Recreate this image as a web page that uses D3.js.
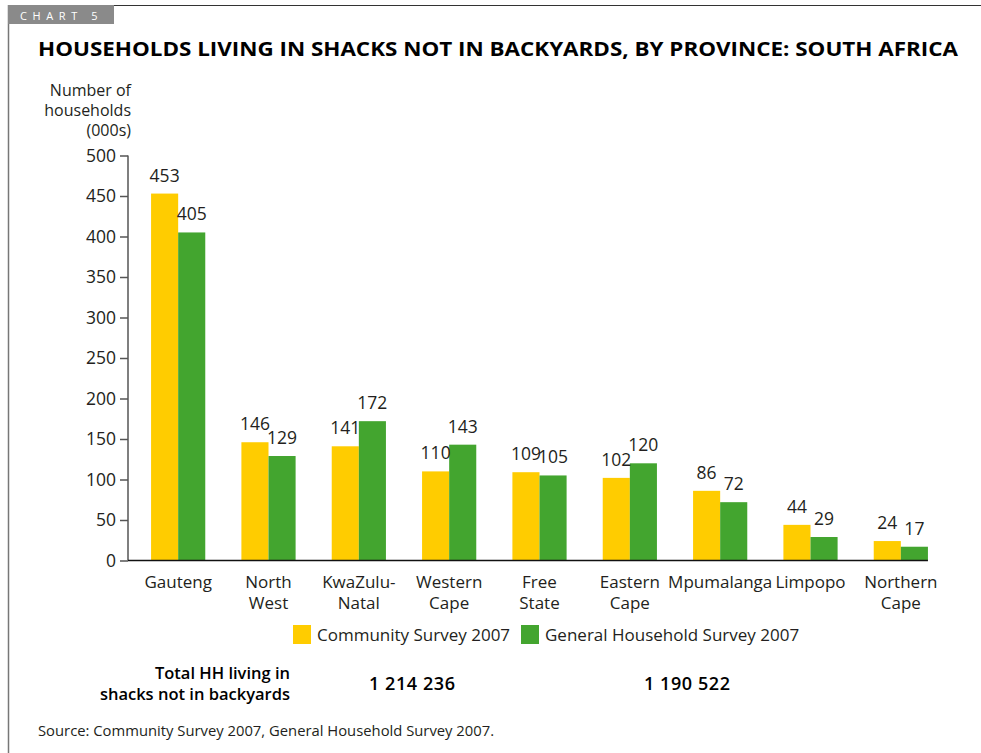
<!DOCTYPE html>
<html>
<head>
<meta charset="utf-8">
<script src="https://cdn.jsdelivr.net/npm/d3@7/dist/d3.min.js"></script>
<style>
  html, body { margin: 0; padding: 0; background: #fff; }
  svg { display: block; font-family: "Open Sans", "Noto Sans", sans-serif; }
</style>
</head>
<body>
<svg id="chart" width="981" height="753"></svg>
<script>
// Provinces (two-line labels) and the two survey series, in thousands of households
const provinces = [
  ["Gauteng"], ["North", "West"], ["KwaZulu-", "Natal"], ["Western", "Cape"],
  ["Free", "State"], ["Eastern", "Cape"], ["Mpumalanga"], ["Limpopo"], ["Northern", "Cape"]
];
const communitySurvey = [453, 146, 141, 110, 109, 102, 86, 44, 24];
const generalHouseholdSurvey = [405, 129, 172, 143, 105, 120, 72, 29, 17];
const seriesNames = ["Community Survey 2007", "General Household Survey 2007"];
const seriesColors = ["#FFCC00", "#43A52F"];
const yTicks = [0, 50, 100, 150, 200, 250, 300, 350, 400, 450, 500];
const totals = ["1 214 236", "1 190 522"];

const svg = d3.select("#chart");
const ink = "#231f20";

// Frame and chart tab
svg.append("line").attr("x1", 8).attr("x2", 981).attr("y1", 5.5).attr("y2", 5.5)
  .attr("stroke", "#333").attr("stroke-width", 1);
svg.append("line").attr("x1", 8.5).attr("x2", 8.5).attr("y1", 5).attr("y2", 753)
  .attr("stroke", "#777").attr("stroke-width", 1.5);
svg.append("rect").attr("x", 8).attr("y", 5).attr("width", 106).attr("height", 19).attr("fill", "#8a8a8a");
svg.append("text").attr("x", 20).attr("y", 19.5).attr("fill", "#fff")
  .attr("font-size", 11).attr("letter-spacing", "5.6px").text("CHART 5");

// Title
svg.append("text").attr("x", 38).attr("y", 56).attr("fill", "#000")
  .attr("font-size", 20).attr("font-weight", "bold")
  .attr("textLength", 920).attr("lengthAdjust", "spacingAndGlyphs")
  .text("HOUSEHOLDS LIVING IN SHACKS NOT IN BACKYARDS, BY PROVINCE: SOUTH AFRICA");

// Scales
const y = d3.scaleLinear().domain([0, 500]).range([560.5, 155.5]);
const x0 = d3.scaleBand().domain(d3.range(provinces.length)).range([133, 946]).paddingInner(0.4).paddingOuter(0.2);
const x1 = d3.scaleBand().domain([0, 1]).range([0, x0.bandwidth()]);

// Y axis
const yAxis = d3.axisLeft(y).tickValues(yTicks).tickSize(8).tickPadding(4);
const gy = svg.append("g").attr("transform", "translate(128,0)").call(yAxis);
gy.select(".domain").attr("stroke", "#555").attr("stroke-width", 1.5).attr("d", `M0,${y(500)}V${y(0)}`);
gy.selectAll(".tick line").attr("stroke", "#555").attr("stroke-width", 1.5);
gy.selectAll(".tick text").attr("font-size", 17.5).attr("fill", ink)
  .attr("font-family", "'Open Sans', sans-serif");

// Y axis title
["Number of", "households", "(000s)"].forEach((t, i) => {
  svg.append("text").attr("x", 131).attr("y", 96 + i * 20).attr("text-anchor", "end")
    .attr("font-size", 16).attr("fill", ink).text(t);
});

// Bars
const groups = svg.append("g").selectAll("g").data(provinces).join("g")
  .attr("transform", (d, i) => `translate(${x0(i)},0)`);
const rows = (i) => [communitySurvey[i], generalHouseholdSurvey[i]];
groups.selectAll("rect").data((d, i) => rows(i)).join("rect")
  .attr("x", (v, j) => x1(j)).attr("width", x1.bandwidth())
  .attr("y", v => y(v)).attr("height", v => y(0) - y(v))
  .attr("fill", (v, j) => seriesColors[j]);

// Value labels
groups.selectAll("text.val").data((d, i) => rows(i)).join("text").attr("class", "val")
  .attr("x", (v, j) => x1(j) + x1.bandwidth() / 2)
  .attr("y", v => y(v) - 12)
  .attr("text-anchor", "middle").attr("font-size", 17.5).attr("fill", ink)
  .text(v => v);

// X axis baseline
svg.append("line").attr("x1", 128).attr("x2", x0(provinces.length - 1) + x0.bandwidth())
  .attr("y1", y(0)).attr("y2", y(0)).attr("stroke", "#111").attr("stroke-width", 1.5);

// Category labels
groups.each(function(lines, i) {
  const g = d3.select(this);
  lines.forEach((t, k) => {
    g.append("text").attr("x", x0.bandwidth() / 2).attr("y", 588 + k * 21)
      .attr("text-anchor", "middle").attr("font-size", 17).attr("fill", ink).text(t);
  });
});

// Legend
const legendX = [293, 521];
seriesNames.forEach((name, j) => {
  svg.append("rect").attr("x", legendX[j]).attr("y", 625).attr("width", 18).attr("height", 19)
    .attr("fill", seriesColors[j]);
  svg.append("text").attr("x", legendX[j] + 24).attr("y", 641).attr("font-size", 17)
    .attr("fill", ink).text(name);
});

// Totals row
["Total HH living in", "shacks not in backyards"].forEach((t, i) => {
  svg.append("text").attr("x", 290).attr("y", 679 + i * 21).attr("text-anchor", "end")
    .attr("font-size", 16.5).attr("font-weight", 600).attr("fill", "#000").text(t);
});
const totalX = [412, 687];
totals.forEach((t, j) => {
  svg.append("text").attr("x", totalX[j]).attr("y", 690).attr("text-anchor", "middle")
    .attr("font-size", 18).attr("font-weight", 600).attr("fill", "#000")
    .attr("textLength", 86).attr("lengthAdjust", "spacing").text(t);
});

// Source
svg.append("text").attr("x", 38).attr("y", 736).attr("font-size", 14.8).attr("fill", ink)
  .text("Source: Community Survey 2007, General Household Survey 2007.");
</script>
</body>
</html>
